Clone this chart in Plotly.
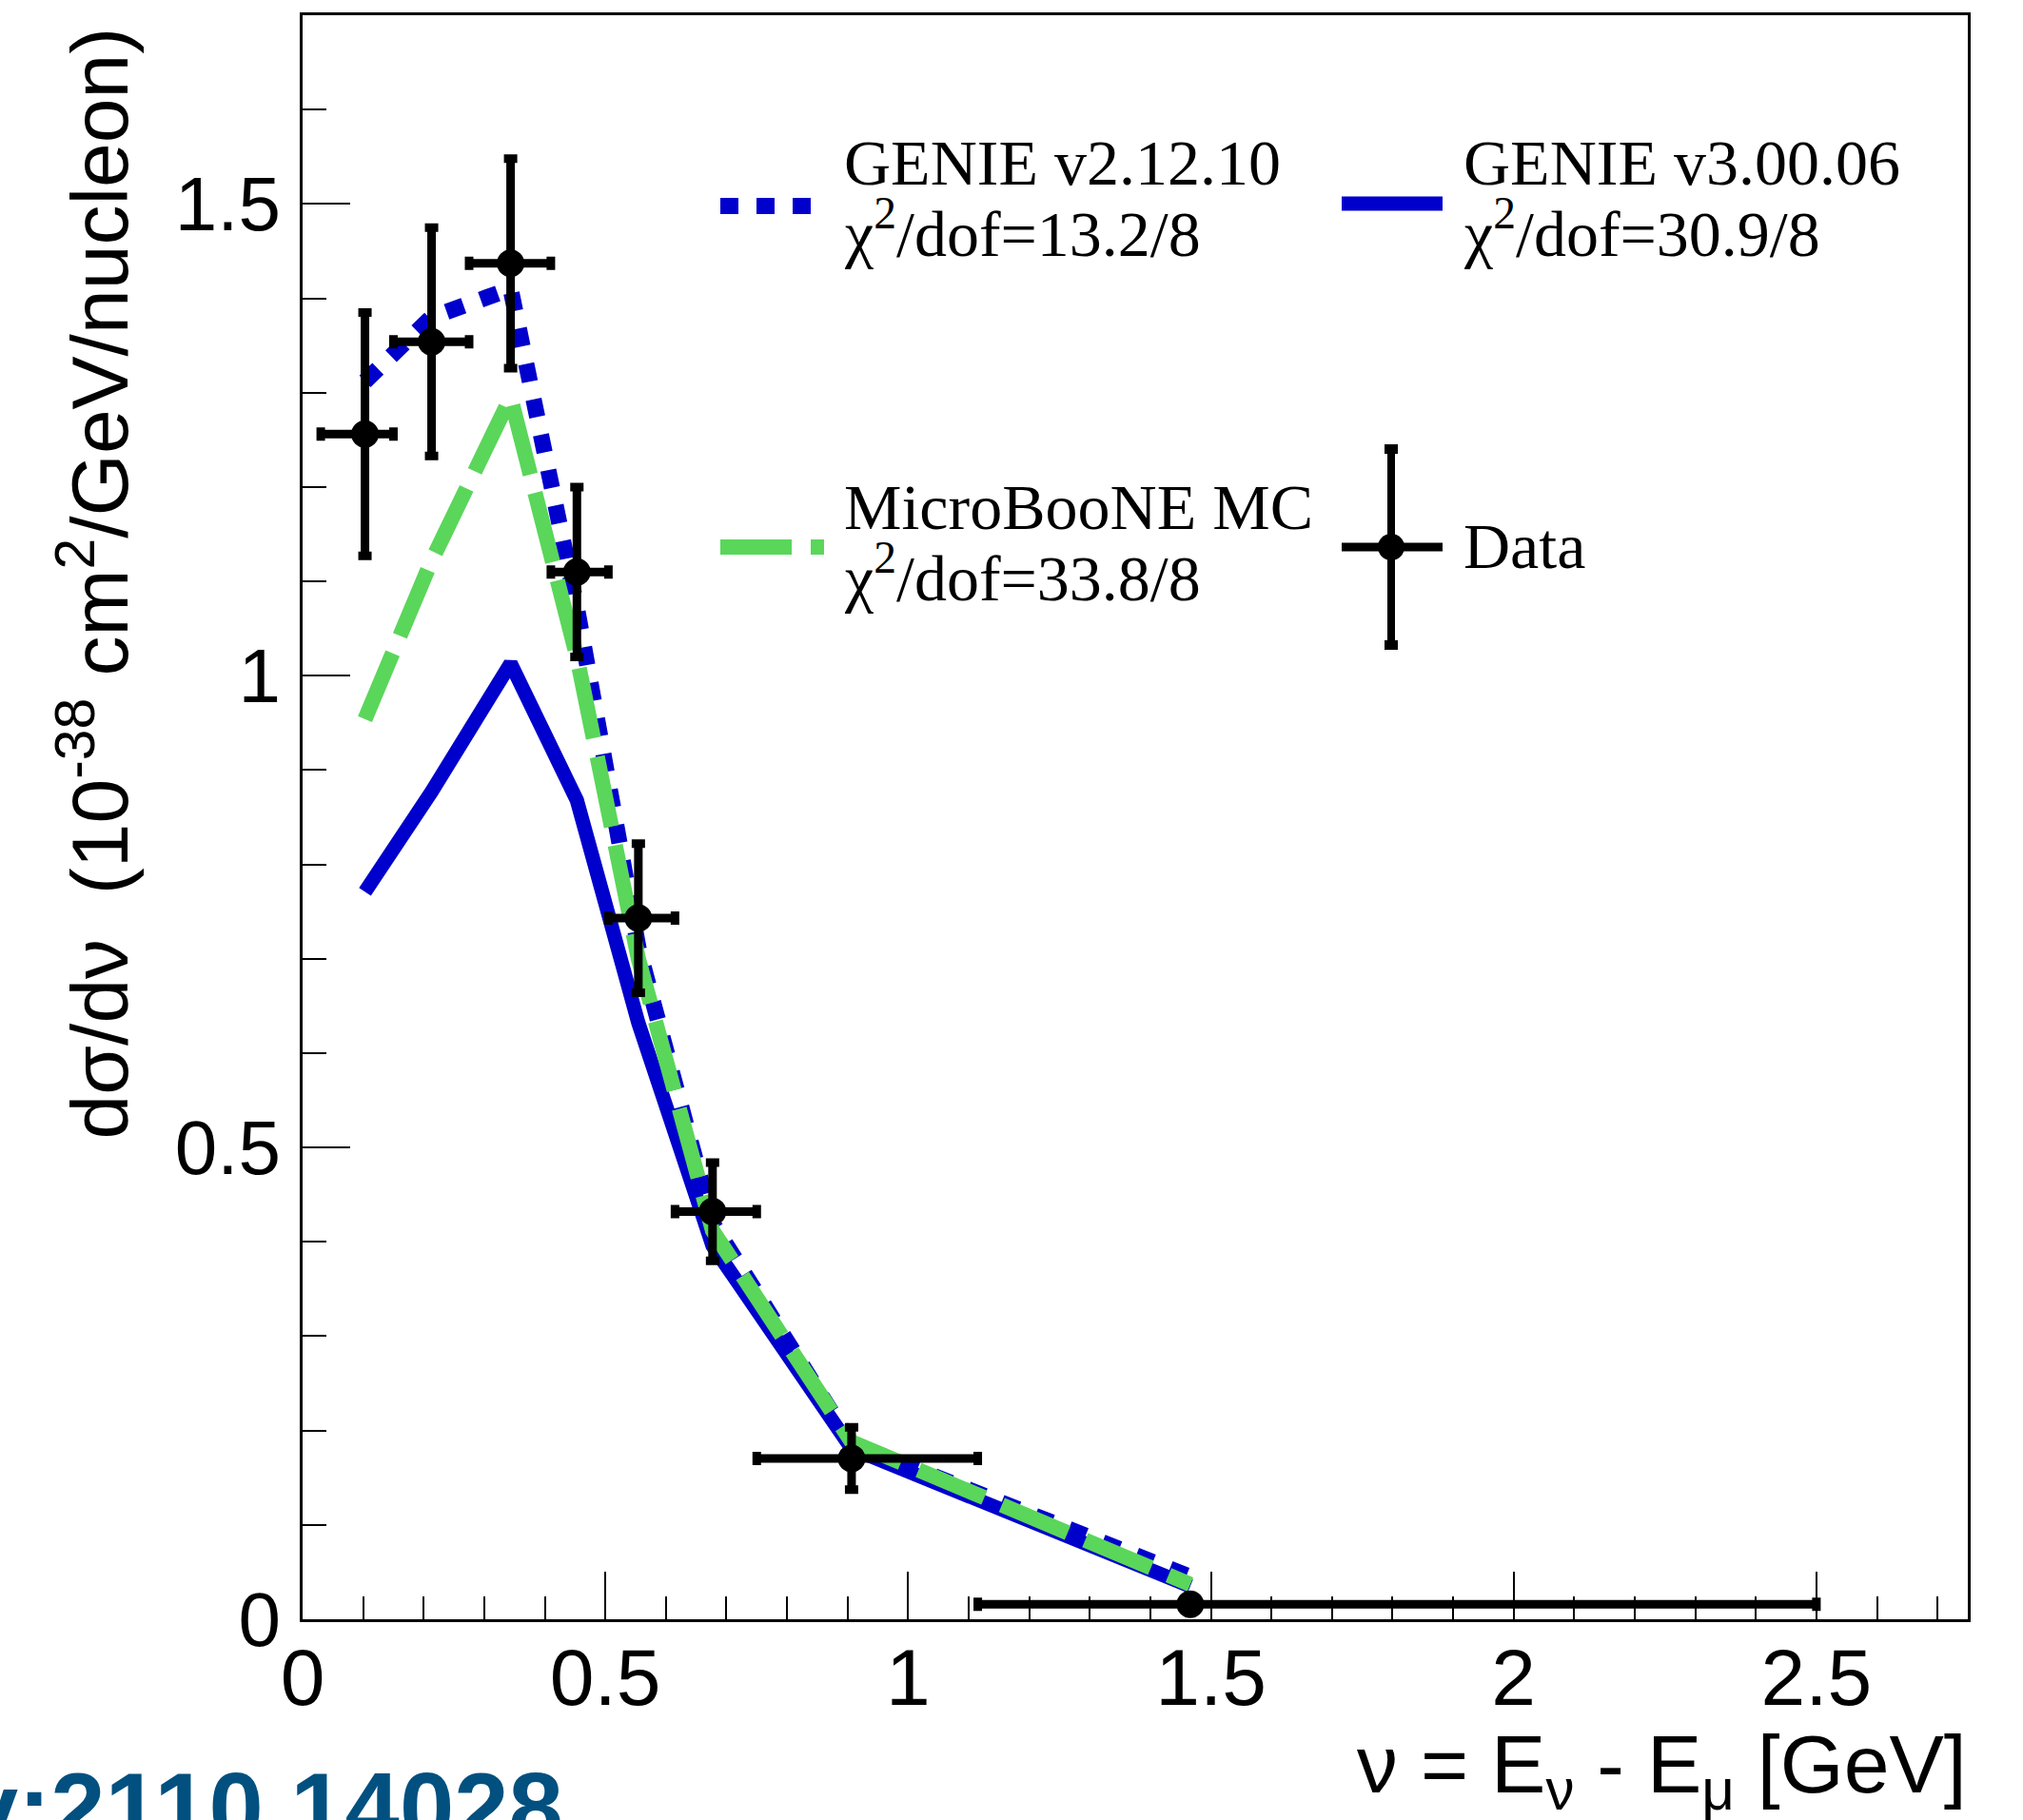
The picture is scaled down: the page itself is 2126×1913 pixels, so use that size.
import plotly.graph_objects as go

# ---------------- data ----------------
nu_x = [0.103, 0.213, 0.3435, 0.453, 0.5545, 0.677, 0.9066, 1.466]
bin_lo = [0.03, 0.15, 0.275, 0.41, 0.505, 0.615, 0.75, 1.115]
bin_hi = [0.15, 0.275, 0.41, 0.505, 0.615, 0.75, 1.115, 2.5]
data_xsec = [1.256, 1.354, 1.437, 1.110, 0.743, 0.432, 0.1705, 0.016]
data_err = [0.129, 0.121, 0.111, 0.090, 0.079, 0.052, 0.033, 0.003]
genie_v2 = [1.312, 1.380, 1.410, 1.072, 0.712, 0.420, 0.186, 0.045]
genie_v3 = [0.771, 0.877, 1.013, 0.868, 0.632, 0.396, 0.181, 0.035]
uboone_mc = [0.954, 1.122, 1.295, 1.020, 0.700, 0.412, 0.188, 0.037]

labels_v2 = ["GENIE v2.12.10", "χ<sup>2</sup>/dof=13.2/8"]
labels_v3 = ["GENIE v3.00.06", "χ<sup>2</sup>/dof=30.9/8"]
labels_mc = ["MicroBooNE MC", "χ<sup>2</sup>/dof=33.8/8"]
label_data = "Data"

W, H = 2126, 1913
L, R, T, B = 318, 58, 16, 211
PW = W - L - R
PH = H - T - B

BLUE = "#0000cc"
GREEN = "#5ad65a"
SANS = "Liberation Sans, Arial, sans-serif"
SERIF = "Liberation Serif, Times New Roman, serif"


def pxx(v):
    return (v - L) / PW


def pxy(v):
    return (H - B - v) / PH


err_plus = [h - x for h, x in zip(bin_hi, nu_x)]
err_minus = [x - l for x, l in zip(nu_x, bin_lo)]

fig = go.Figure()
fig.add_trace(go.Scatter(x=nu_x, y=genie_v2, mode="lines", name="GENIE v2.12.10",
                         line=dict(color=BLUE, width=17, dash="19px,19px"), showlegend=False))
fig.add_trace(go.Scatter(x=nu_x, y=genie_v3, mode="lines", name="GENIE v3.00.06",
                         line=dict(color=BLUE, width=15), showlegend=False))
fig.add_trace(go.Scatter(x=nu_x, y=uboone_mc, mode="lines", name="MicroBooNE MC",
                         line=dict(color=GREEN, width=16, dash="75px,20px"), showlegend=False))
fig.add_trace(go.Scatter(
    x=nu_x, y=data_xsec, mode="markers", name="Data", showlegend=False,
    marker=dict(color="black", size=29, symbol="circle"),
    error_y=dict(type="data", array=data_err, visible=True, color="black", thickness=9, width=7),
    error_x=dict(type="data", array=err_plus, arrayminus=err_minus, visible=True,
                 color="black", thickness=9, width=7),
))

axis_common = dict(
    showgrid=False, zeroline=False, showline=True, linecolor="black", linewidth=3,
    mirror=True, ticks="inside", tickcolor="black", tickwidth=2, ticklen=50,
)
fig.update_xaxes(range=[0, 2.75], tick0=0, dtick=0.5, ticklabelstandoff=-14,
                 tickfont=dict(family=SANS, size=84, color="black"),
                 minor=dict(dtick=0.1, ticks="inside", ticklen=24, tickwidth=2, tickcolor="black"),
                 **axis_common)
fig.update_yaxes(range=[0, 1.7], tick0=0, dtick=0.5, ticklabelstandoff=4,
                 tickfont=dict(family=SANS, size=80, color="black"),
                 minor=dict(dtick=0.1, ticks="inside", ticklen=25, tickwidth=2, tickcolor="black"),
                 **axis_common)

shapes = []
# legend samples
shapes.append(dict(type="line", xref="paper", yref="paper", x0=pxx(757), x1=pxx(853),
                   y0=pxy(216.5), y1=pxy(216.5), line=dict(color=BLUE, width=17, dash="19px,19px")))
shapes.append(dict(type="line", xref="paper", yref="paper", x0=pxx(1410), x1=pxx(1516),
                   y0=pxy(214), y1=pxy(214), line=dict(color=BLUE, width=15)))
shapes.append(dict(type="line", xref="paper", yref="paper", x0=pxx(757), x1=pxx(866),
                   y0=pxy(575), y1=pxy(575), line=dict(color=GREEN, width=16, dash="75px,20px")))
shapes.append(dict(type="line", xref="paper", yref="paper", x0=pxx(1462), x1=pxx(1462),
                   y0=pxy(468), y1=pxy(682), line=dict(color="black", width=8)))
shapes.append(dict(type="line", xref="paper", yref="paper", x0=pxx(1410), x1=pxx(1516),
                   y0=pxy(575), y1=pxy(575), line=dict(color="black", width=9)))
for cy in (472, 678):
    shapes.append(dict(type="line", xref="paper", yref="paper", x0=pxx(1455), x1=pxx(1469),
                       y0=pxy(cy), y1=pxy(cy), line=dict(color="black", width=10)))
shapes.append(dict(type="circle", xref="paper", yref="paper", x0=pxx(1448), x1=pxx(1476),
                   y0=pxy(561), y1=pxy(589), fillcolor="black", line=dict(color="black", width=0)))

LEG_FS = 68
annotations = []


def leg_text(text, x_left, baseline):
    annotations.append(dict(
        text=text, xref="paper", yref="paper", x=pxx(x_left), y=pxy(baseline + 0.216 * LEG_FS),
        xanchor="left", yanchor="bottom", showarrow=False, borderpad=0,
        font=dict(family=SERIF, size=LEG_FS, color="black")))


leg_text(labels_v2[0], 886, 195)
leg_text(labels_v2[1], 886, 270)
leg_text(labels_v3[0], 1537, 195)
leg_text(labels_v3[1], 1537, 270)
leg_text(labels_mc[0], 886, 557)
leg_text(labels_mc[1], 886, 632)
leg_text(label_data, 1537, 598)

# axis titles
annotations.append(dict(
    text="ν = E<sub>ν</sub> - E<sub>μ</sub> [GeV]", xref="paper", yref="paper",
    x=pxx(2068), y=pxy(1878 + 0.212 * 86 + 20), xanchor="right", yanchor="bottom",
    showarrow=False, borderpad=0, font=dict(family=SANS, size=86, color="black")))
annotations.append(dict(
    text="dσ/dν  (10<sup>-38</sup> cm<sup>2</sup>/GeV/nucleon)", xref="paper", yref="paper",
    x=pxx(152), y=pxy(28), xanchor="right", yanchor="top", textangle=-90,
    showarrow=False, borderpad=0, font=dict(family=SANS, size=84, color="black")))
# arXiv stamp (cut off by page edge)
annotations.append(dict(
    text="<b>arXiv:2110.14028</b>", xref="paper", yref="paper",
    x=pxx(593), y=pxy(1959), xanchor="right", yanchor="bottom",
    showarrow=False, borderpad=0, font=dict(family=SANS, size=103, color="#02507f")))

fig.update_layout(
    width=W, height=H, margin=dict(l=L, r=R, t=T, b=B, autoexpand=False),
    paper_bgcolor="white", plot_bgcolor="white", showlegend=False,
    shapes=shapes, annotations=annotations,
)

fig.write_html("out.html")
